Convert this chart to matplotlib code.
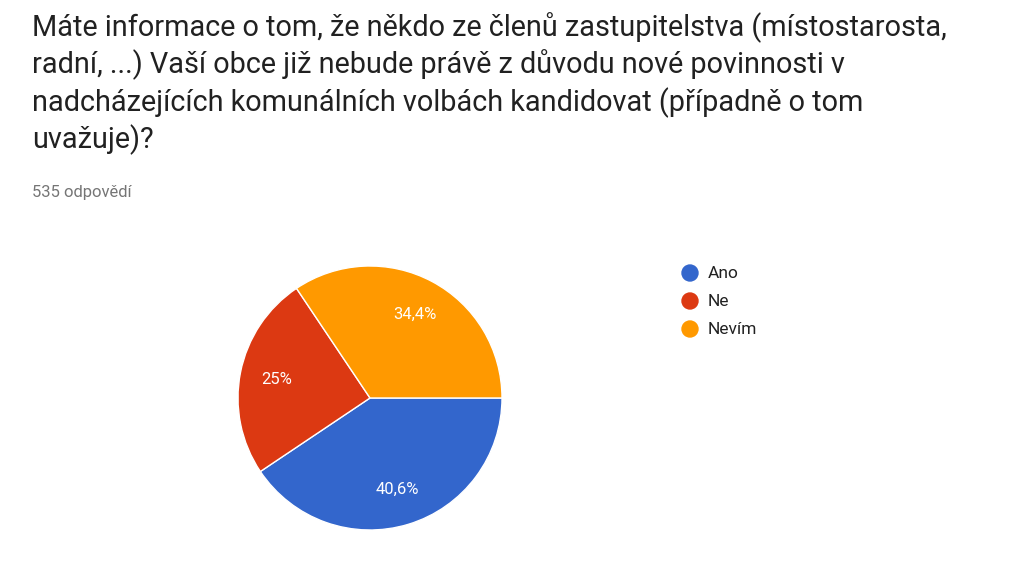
import matplotlib
matplotlib.use("Agg")
import matplotlib.pyplot as plt
import numpy as np

categories = ["Ano", "Ne", "Nevím"]
values = [40.6, 25.0, 34.4]
labels = ["40,6%", "25%", "34,4%"]
colors = ["#3366cc", "#dc3912", "#ff9900"]
title = ("Máte informace o tom, že někdo ze členů zastupitelstva (místostarosta,\n"
         "radní, ...) Vaší obce již nebude právě z důvodu nové povinnosti v\n"
         "nadcházejících komunálních volbách kandidovat (případně o tom\n"
         "uvažuje)?")
subtitle = "535 odpovědí"

W, H = 1024, 571
fig = plt.figure(figsize=(W/100, H/100), dpi=100)
fig.text(32/W, 1-12/H, title, fontfamily="Roboto", fontsize=20.8, color="#212121",
         va="top", ha="left", linespacing=1.28)
fig.text(32/W, 1-192/H, subtitle, fontfamily="Roboto", fontsize=12, color="#757575",
         va="center", ha="left")

ax = fig.add_axes([(370-132)/W, (571-530)/H, 264/W, 264/H])
wedges, texts = ax.pie(values, colors=colors, startangle=0, counterclock=False,
                       wedgeprops=dict(edgecolor="white", linewidth=1))
for w, lab in zip(wedges, labels):
    mid = np.deg2rad((w.theta1 + w.theta2) / 2)
    ax.text(0.72*np.cos(mid), 0.72*np.sin(mid), lab, ha="center", va="center",
            color="white", fontsize=12, fontfamily="Roboto")
ax.set_aspect("equal")
ax.set_xlim(-1, 1); ax.set_ylim(-1, 1)
ax.axis("off")

for i, (c, col) in enumerate(zip(categories, colors)):
    y = 1 - (273 + 28*i)/H
    fig.patches.append(matplotlib.patches.Ellipse((690/W, y), 16/W, 16/H, color=col,
                                                  transform=fig.transFigure))
    fig.text(708/W, y, c, fontfamily="Roboto", fontsize=12.5, color="#212121",
             va="center", ha="left")

fig.savefig("out.png", dpi=100)
